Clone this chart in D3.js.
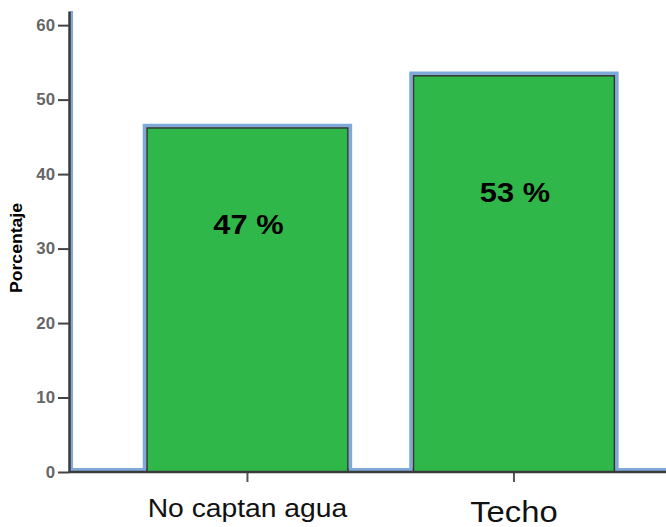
<!DOCTYPE html>
<html><head><meta charset="utf-8">
<script src="https://cdn.jsdelivr.net/npm/d3@7"></script>
<style>body{margin:0;background:#fff}svg{display:block}</style>
</head><body>
<svg id="c" width="666" height="527"></svg>
<script>
const categories = ["No captan agua", "Techo"];
const values = [46.2, 53.2];
const barLabels = ["47 %", "53 %"];
const yTicks = [0, 10, 20, 30, 40, 50, 60];
const yTitle = "Porcentaje";

const svg = d3.select("#c");
const y = d3.scaleLinear().domain([0, 61.9]).range([472, 11]);
const x = d3.scaleBand().domain(categories).range([114.2, 647.2]).paddingInner(0.246).paddingOuter(0.123);
function widen(sel, s){ sel.each(function(){ const l=this.getComputedTextLength(); this.setAttribute("textLength", l*s); this.setAttribute("lengthAdjust","spacingAndGlyphs"); }); }

const green = "#2fb74a", blue = "#7eaad9", dark = "#333";
const font = "Liberation Sans, Arial, sans-serif";

// blue outline lines along axis and baseline
svg.append("line").attr("x1", 71.5).attr("x2", 71.5).attr("y1", y.range()[1]).attr("y2", 470)
  .attr("stroke", blue).attr("stroke-width", 3);
svg.append("line").attr("x1", 71).attr("x2", 666).attr("y1", 469.5).attr("y2", 469.5)
  .attr("stroke", blue).attr("stroke-width", 3);

// blue outline around bars
svg.selectAll("path.bo").data(categories).join("path").attr("class","bo")
  .attr("fill","none").attr("stroke", blue).attr("stroke-width", 3.5)
  .attr("d", (d,i) => { const x0 = x(d)-2.5, x1 = x(d)+x.bandwidth()+2.5, yt = y(values[i])-2.5;
    return `M${x0},${y(0)}L${x0},${yt}L${x1},${yt}L${x1},${y(0)}`; });

// bars
svg.selectAll("rect.bar").data(categories).join("rect").attr("class","bar")
  .attr("x", d => x(d)).attr("width", x.bandwidth())
  .attr("y", (d,i) => y(values[i])).attr("height", (d,i) => y(0) - y(values[i]))
  .attr("fill", green).attr("stroke", dark).attr("stroke-width", 1.5);

// y axis
const ya = svg.append("g").attr("transform", "translate(69,0)")
  .call(d3.axisLeft(y).tickValues(yTicks).tickSize(11).tickPadding(3).tickSizeOuter(0));
ya.select(".domain").attr("stroke", "#3a3a3a").attr("stroke-width", 2.5);
ya.selectAll(".tick line").attr("stroke", "#444").attr("stroke-width", 2);
ya.selectAll(".tick text").attr("fill", "#666").attr("font-family", font)
  .attr("font-weight", "bold").attr("font-size", 16).call(widen, 1.05);

// baseline (x axis)
const xa = svg.append("g").attr("transform", `translate(0,${y(0)})`)
  .call(d3.axisBottom(x).tickSize(10).tickSizeOuter(0).tickFormat(""));
xa.select(".domain").remove();
xa.append("line").attr("x1", 69).attr("x2", 666).attr("stroke", "#3a3a3a").attr("stroke-width", 2.5);
xa.selectAll(".tick line").attr("stroke", "#555").attr("stroke-width", 2);

// category labels
const catSize = [25, 29], catBase = [517, 522];
svg.selectAll("text.cat").data(categories).join("text").attr("class","cat")
  .attr("x", d => x(d) + x.bandwidth()/2).attr("y", (d,i) => catBase[i])
  .attr("text-anchor", "middle").attr("font-family", font)
  .attr("font-size", (d,i) => catSize[i]).attr("fill", "#111").text(d => d).call(widen, 1.13);

// bar labels
const labBase = [234, 202];
svg.selectAll("text.lab").data(categories).join("text").attr("class","lab")
  .attr("x", d => x(d) + x.bandwidth()/2 + 1).attr("y", (d,i) => labBase[i])
  .attr("text-anchor", "middle").attr("font-family", font)
  .attr("font-weight", "bold").attr("font-size", 28).attr("fill", "#000")
  .text((d,i) => barLabels[i]).call(widen, 1.1);

// y title
svg.append("text").attr("transform", "translate(22,248) rotate(-90)")
  .attr("text-anchor", "middle").attr("font-family", font)
  .attr("font-weight", "bold").attr("font-size", 16).attr("fill", "#000").text(yTitle)
  .attr("textLength", 90).attr("lengthAdjust", "spacingAndGlyphs");
</script>
</body></html>
